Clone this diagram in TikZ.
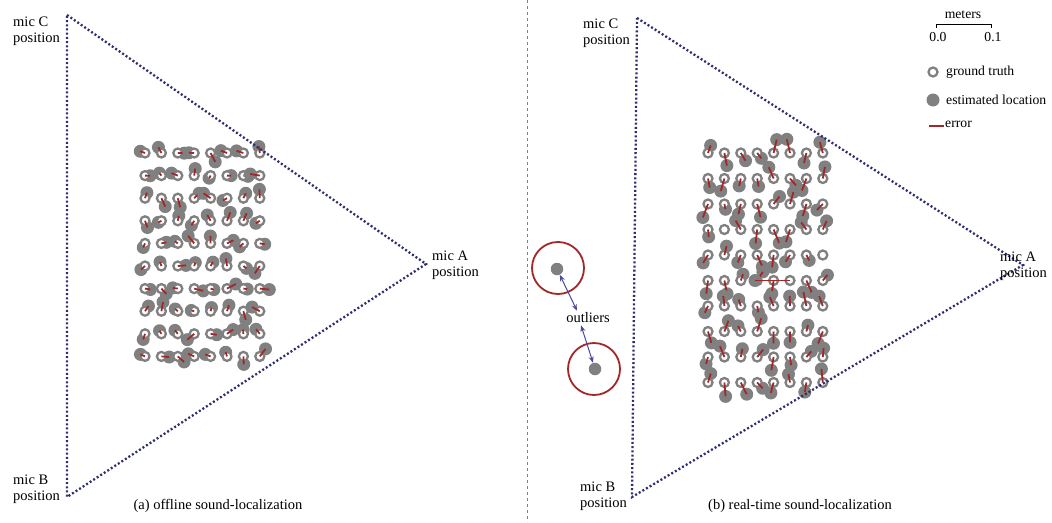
\documentclass[tikz,border=0pt]{standalone}
\usepackage{fontspec}
\setmainfont{Liberation Serif}
\usetikzlibrary{arrows.meta}
\definecolor{tri}{HTML}{2E2E6E}
\definecolor{gt}{HTML}{808080}
\definecolor{err}{HTML}{A02828}
\definecolor{arr}{HTML}{4A4A9A}
\begin{document}
\begin{tikzpicture}[x=1pt,y=-1pt, font=\fontsize{14.5}{15.5}\selectfont,
 triedge/.style={tri, line width=2.3pt, dash pattern=on 2pt off 2.2pt},
 lbl/.style={align=left, inner sep=0pt, anchor=north west},
 gtring/.style={draw=gt, line width=2.3pt, fill=white},
 estdot/.style={fill=gt},
 errline/.style={err, line width=1.8pt},
 oarrow/.style={arr, line width=1pt, {Stealth[length=6.5pt,width=5pt]}-{Stealth[length=6.5pt,width=5pt]}}]
\useasboundingbox (0,0) rectangle (1052,522);
% divider
\draw[gray, line width=0.6pt, dash pattern=on 3pt off 3pt] (527,0) -- (527,522);
% ---------- left panel ----------
\coordinate (lC) at (67,15);
\coordinate (lA) at (426,264);
\coordinate (lB) at (67,497);
\pgfmathsetseed{4242}
\foreach \i in {0,...,7}{\foreach \j in {0,...,9}{
  \pgfmathsetmacro\gx{145+16.4*\i}
  \pgfmathsetmacro\gy{153+22.6*\j}
  \pgfmathsetmacro\rr{3+7*rnd}
  \pgfmathsetmacro\aa{360*rnd}
  \pgfmathsetmacro\ex{\gx+\rr*cos(\aa)}
  \pgfmathsetmacro\ey{\gy+\rr*sin(\aa)}
  \fill[estdot] (\ex,\ey) circle[radius=6.5pt];
  \draw[gtring] (\gx,\gy) circle[radius=4.5pt];
  \draw[errline] (\gx,\gy) -- (\ex,\ey);
}}
\draw[triedge] (lC) -- (lA) -- (lB) -- cycle;
\node[lbl] (lCl) at (13,17) {mic C\\position};
\node[lbl] (lBl) at (13,475) {mic B\\position};
\node[lbl] (lAl) at (432,251) {mic A\\position};
\node (capa) at (218,506) {(a) offline sound-localization};
% ---------- right panel ----------
\coordinate (rC) at (637,18);
\coordinate (rA) at (1023,265);
\coordinate (rB) at (632,497);
\foreach \i in {0,...,7}{\foreach \j in {0,...,9}{
  \pgfmathsetmacro\gx{708+16.4*\i}
  \pgfmathsetmacro\gy{153+25.5*\j}
  \pgfmathsetmacro\sg{rand<0.15 ? 1 : -1}
  \pgfmathsetmacro\ex{\gx+6*rand}
  \pgfmathsetmacro\ey{\gy+\sg*(5+9*rnd)}
  \pgfmathtruncatemacro\k{\i*10+\j}
  \ifnum\k=55 \pgfmathsetmacro\ex{\gx-35}\pgfmathsetmacro\ey{\gy}\fi
  \ifnum\k=13 \draw[gtring] (\gx,\gy) circle[radius=4.5pt];
  \else\ifnum\k=74 \draw[gtring] (\gx,\gy) circle[radius=4.5pt];
  \else
  \fill[estdot] (\ex,\ey) circle[radius=6.5pt];
  \draw[gtring] (\gx,\gy) circle[radius=4.5pt];
  \draw[errline] (\gx,\gy) -- (\ex,\ey);
  \fi\fi
}}
\draw[triedge] (rC) -- (rA) -- (rB) -- cycle;
\node[lbl] (rCl) at (583,19) {mic C\\position};
\node[lbl] (rBl) at (580,482) {mic B\\position};
\node[lbl] (rAl) at (1000,252) {mic A\\position};
\node (capb) at (800,506) {(b) real-time sound-localization};
% outliers
\node[circle, draw=err, line width=1.8pt, minimum size=52pt, inner sep=0pt] (o1) at (558,268) {};
\node[circle, fill=gt, minimum size=12.5pt, inner sep=0pt] (d1) at (557,269) {};
\node[circle, draw=err, line width=1.8pt, minimum size=52pt, inner sep=0pt] (o2) at (594,369) {};
\node[circle, fill=gt, minimum size=12.5pt, inner sep=0pt] (d2) at (595,369) {};
\node[inner sep=2pt] (ol) at (588,318) {outliers};
\draw[oarrow] (d1) -- ([xshift=-11pt]ol.north);
\draw[oarrow] ([xshift=-7pt]ol.south) -- (d2);
% legend
\begin{scope}[font=\fontsize{13.7}{15}\selectfont]
\node[inner sep=0pt] (mt) at (963,15) {meters};
\coordinate (s0) at (936,28);
\coordinate (s1) at (991,28);
\draw[black, line width=1pt] (s0) -- ([yshift=4pt]s0) -- ([yshift=4pt]s1) -- (s1);
\node[inner sep=0pt] (z0) at (938,37) {0.0};
\node[inner sep=0pt] (z1) at (993,37) {0.1};
\draw[gtring] (933,72) circle[radius=4.5pt];
\node[inner sep=0pt, anchor=west] (lg1) at (946,72) {ground truth};
\fill[estdot] (933,100) circle[radius=6.5pt];
\node[inner sep=0pt, anchor=west] (lg2) at (946,100) {estimated location};
\coordinate (e0) at (929,126);
\coordinate (e1) at (944,126);
\draw[errline] (e0) -- (e1);
\node[inner sep=0pt, anchor=west] (lg3) at (945,124) {error};
\end{scope}
\end{tikzpicture}
\end{document}
